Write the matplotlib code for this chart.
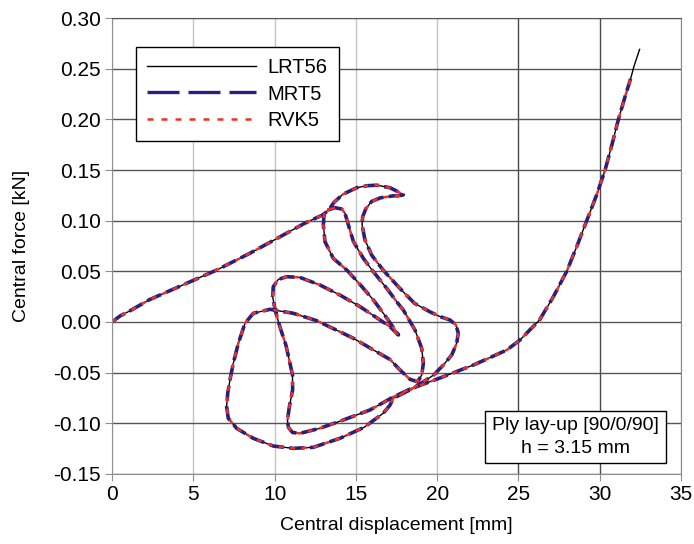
import numpy as np
import matplotlib.pyplot as plt
from matplotlib.lines import Line2D

plt.rcParams['font.family'] = ['Liberation Sans', 'DejaVu Sans']
plt.rcParams['font.size'] = 14

# central displacement [mm] / central force [kN], read along the equilibrium path
disp = [
    # loading branch up to the first limit point
    0.0, 0.5, 1.1, 2.3, 4.0, 6.4, 8.5, 10.1, 11.8, 13.0, 13.35, 13.65, 14.2,
    15.05, 15.7, 16.3, 17.1, 17.6, 17.92,
    # back over the hook and down the right lobe
    17.6, 17.3, 16.5, 15.97, 15.62, 15.42, 15.38, 15.56, 15.97, 16.69, 17.6,
    18.6, 19.56, 20.18, 20.79, 21.16, 21.3, 21.2, 20.9, 20.38, 19.77, 19.15, 18.7,
    # down-left, curl, up and over the middle loop
    17.3, 15.87, 14.23, 12.79, 11.56, 11.1, 10.85, 10.79, 10.91, 11.11, 11.1,
    10.95, 10.7, 10.33, 10.03, 9.88, 9.92, 10.23, 10.74, 11.56, 12.79, 14.02,
    15.26, 16.49, 17.1, 17.62,
    # second hook
    16.9, 16.08, 15.2, 14.44, 13.61, 13.1, 13.0, 13.04, 13.3, 13.72, 14.13,
    14.33, 14.54, 14.85, 15.46, 16.07, 16.9, 17.51, 17.92, 18.64, 19.05, 19.15,
    19.05, 18.8,
    # lower left loop
    18.33, 17.72, 17.1, 16.08, 14.85, 14.0, 12.59, 11.15, 9.72, 8.69, 8.18,
    7.77, 7.46, 7.28, 7.12, 7.05, 7.15, 7.67, 8.69, 9.92, 11.15, 12.38, 14.02,
    15.5, 16.69, 17.1, 17.3,
    # final stiffening branch
    18.7, 20.17, 22.3, 24.29, 25.09, 26.3, 27.15, 27.97, 28.6, 29.2, 29.8,
    30.33, 30.75, 31.15, 31.55, 31.9,
]
force = [
    0.0, 0.006, 0.011, 0.022, 0.034, 0.051, 0.068, 0.082, 0.097, 0.106, 0.111,
    0.118, 0.126, 0.1325, 0.1345, 0.135, 0.1325, 0.1285, 0.1255,
    0.1245, 0.1245, 0.1225, 0.119, 0.112, 0.104, 0.096, 0.081, 0.066, 0.051,
    0.035, 0.0185, 0.010, 0.0053, 0.002, -0.003, -0.011, -0.021, -0.0325,
    -0.0425, -0.0525, -0.059, -0.0635,
    -0.074, -0.0868, -0.0967, -0.1049, -0.1099, -0.109, -0.104, -0.097,
    -0.0836, -0.067, -0.052, -0.041, -0.023, -0.005, 0.012, 0.025, 0.035,
    0.042, 0.0447, 0.044, 0.0365, 0.0266, 0.0151, 0.002, -0.0046, -0.0128,
    0.004, 0.0217, 0.038, 0.0513, 0.0628, 0.0793, 0.0957, 0.1056, 0.1105,
    0.1128, 0.1115, 0.1073, 0.0957, 0.0793, 0.0628, 0.0497, 0.0332, 0.020,
    0.0118, -0.008, -0.026, -0.041, -0.0523, -0.059,
    -0.0566, -0.0474, -0.037, -0.0276, -0.0161, -0.0095, 0.0013, 0.0086,
    0.0125, 0.0086, -0.0013, -0.021, -0.0408, -0.055, -0.07, -0.0836, -0.095,
    -0.105, -0.1148, -0.1224, -0.1247, -0.1237, -0.1148, -0.104, -0.090,
    -0.082, -0.0753,
    -0.064, -0.0553, -0.042, -0.0276, -0.0178, 0.002, 0.025, 0.050, 0.075,
    0.100, 0.125, 0.150, 0.175, 0.200, 0.222, 0.240,
]
# LRT56 goes on a little further than the other two
lrt56_tail_disp = [32.1, 32.45]
lrt56_tail_force = [0.252, 0.269]

x_ticks = [0, 5, 10, 15, 20, 25, 30, 35]
y_ticks = [-0.15, -0.10, -0.05, 0.0, 0.05, 0.10, 0.15, 0.20, 0.25, 0.30]
y_labels = ['-0.15', '-0.10', '-0.05', '0.00', '0.05', '0.10', '0.15',
            '0.20', '0.25', '0.30']

blue = '#2a1f7d'
red = '#ee3124'

fig = plt.figure(figsize=(6.94, 5.44), dpi=100)
ax = fig.add_axes([0.1614, 0.1287, 0.8199, 0.8382])

ax.plot(disp + lrt56_tail_disp, force + lrt56_tail_force, color='black', lw=1.0)
ax.plot(disp, force, color=blue, lw=2.6, dashes=(4.2, 1.5))
ax.plot(disp, force, color=red, lw=1.8, dashes=(2.0, 2.6))

ax.set_xlim(0, 35)
ax.set_ylim(-0.15, 0.30)
ax.set_xticks(x_ticks)
ax.set_yticks(y_ticks)
ax.set_yticklabels(y_labels)
ax.tick_params(direction='out', length=5, color='#909090', pad=3,
               labelsize=15)

ax.grid(True, lw=1.0)
for v, gl in zip(x_ticks, ax.xaxis.get_gridlines()):
    gl.set_color('#4a4a4a' if v in (25, 30) else '#c4c4c4')
for gl in ax.yaxis.get_gridlines():
    gl.set_color('#555555')
ax.set_axisbelow(True)
for side in ('left', 'bottom'):
    ax.spines[side].set_color('#909090')
ax.spines['top'].set_color('#555555')
ax.spines['right'].set_color('#888888')

ax.set_xlabel('Central displacement [mm]', labelpad=9)
ax.set_ylabel('Central force [kN]', labelpad=17)

handles = [
    Line2D([], [], color='black', lw=1.0),
    Line2D([], [], color=blue, lw=2.4, dashes=(9.6, 2.7)),
    Line2D([], [], color=red, lw=1.8, dashes=(2.4, 3.2)),
]
leg = ax.legend(handles, ['LRT56', 'MRT5', 'RVK5'], loc='upper left',
                bbox_to_anchor=(0.042, 0.936), borderaxespad=0,
                fancybox=False, edgecolor='black', framealpha=1,
                fontsize=14.5, handlelength=5.4, handletextpad=0.6,
                labelspacing=0.36, borderpad=0.55)
leg.get_frame().set_linewidth(1.0)

ax.text(28.5, -0.1135, 'Ply lay-up [90/0/90]\nh = 3.15 mm', ha='center',
        va='center', multialignment='center', fontsize=14, linespacing=1.4,
        bbox=dict(boxstyle='square,pad=0.35', fc='white', ec='black', lw=1.0))

fig.savefig('out.png', dpi=100)
